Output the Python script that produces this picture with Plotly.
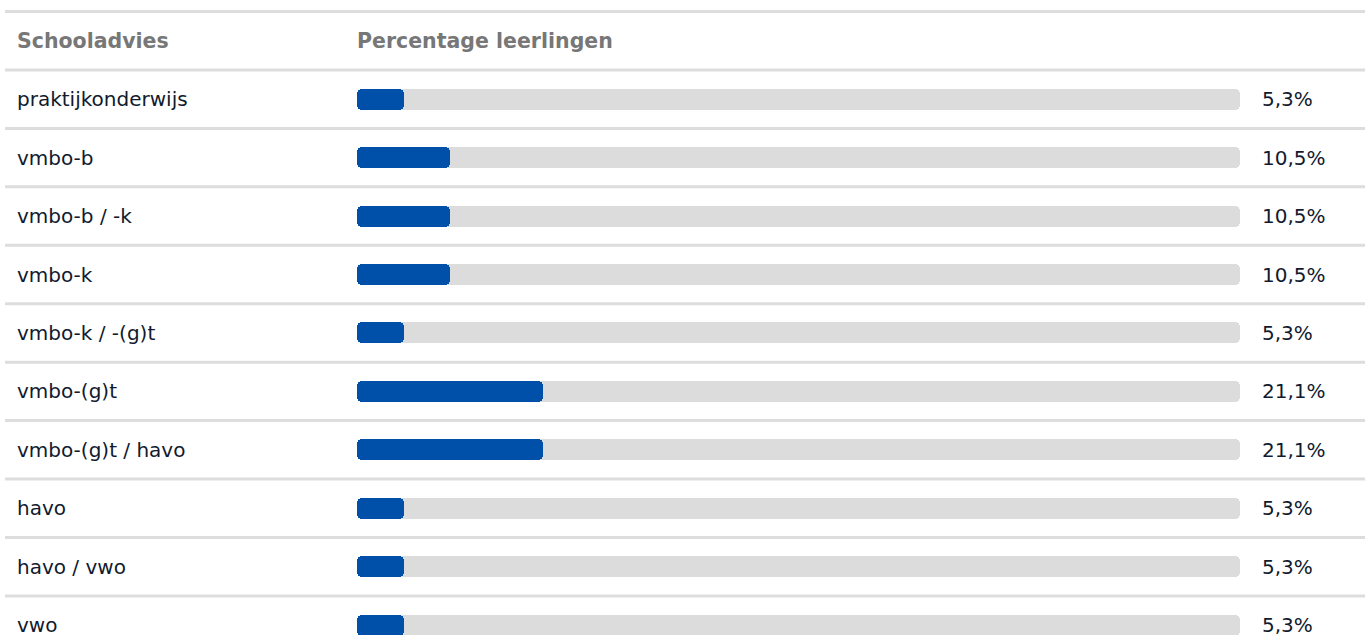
import plotly.graph_objects as go

categories = ["praktijkonderwijs", "vmbo-b", "vmbo-b / -k", "vmbo-k", "vmbo-k / -(g)t",
              "vmbo-(g)t", "vmbo-(g)t / havo", "havo", "havo / vwo", "vwo"]
values = [5.3, 10.5, 10.5, 10.5, 5.3, 21.1, 21.1, 5.3, 5.3, 5.3]
header_left = "Schooladvies"
header_bar = "Percentage leerlingen"
track_max = 100

W, H = 1365, 635
ROW = 58.44
C0 = 99.2  # pixel center of first row

def pix_to_idx(p):
    return (p - C0) / ROW

labels = [f"{v:.1f}".replace(".", ",") + "%" for v in values]

BAR_W = 0.36
RADIUS = 5

fig = go.Figure()
fig.add_trace(go.Bar(y=categories, x=[track_max] * len(categories), base=[0] * len(categories),
                     orientation="h",
                     marker=dict(color="#DCDCDC", cornerradius=RADIUS, line=dict(width=0)),
                     width=BAR_W, hoverinfo="skip", showlegend=False))
fig.add_trace(go.Bar(y=categories, x=values, base=[0] * len(categories), orientation="h",
                     marker=dict(color="#0050AA", cornerradius=RADIUS, line=dict(width=0)),
                     width=BAR_W, hoverinfo="skip", showlegend=False))

font_family = "DejaVu Sans, Verdana, sans-serif"
ann = []
ann.append(dict(text=f"<b>{header_left}</b>", x=15 / W, xref="paper", y=-1, yref="y",
                xanchor="left", yanchor="middle", showarrow=False,
                font=dict(size=20.5, color="#777777", family=font_family)))
ann.append(dict(text=f"<b>{header_bar}</b>", x=355 / W, xref="paper", y=-1, yref="y",
                xanchor="left", yanchor="middle", showarrow=False,
                font=dict(size=20.5, color="#777777", family=font_family)))
for i, (c, l) in enumerate(zip(categories, labels)):
    ann.append(dict(text=c, x=15 / W, xref="paper", y=i, yref="y",
                    xanchor="left", yanchor="middle", showarrow=False,
                    font=dict(size=20, color="#111A2E", family=font_family)))
    ann.append(dict(text=l, x=1260 / W, xref="paper", y=i, yref="y",
                    xanchor="left", yanchor="middle", showarrow=False,
                    font=dict(size=20, color="#111A2E", family=font_family)))

shapes = []
for k in range(-2, len(categories)):
    shapes.append(dict(type="line", xref="paper", yref="y", x0=5 / W, x1=1,
                       y0=k + 0.5, y1=k + 0.5, line=dict(color="#DDDDDD", width=3),
                       layer="below"))

fig.update_layout(
    width=W, height=H, margin=dict(l=0, r=0, t=0, b=0),
    paper_bgcolor="white", plot_bgcolor="white",
    barmode="overlay", bargap=0,
    xaxis=dict(domain=[357 / W, 1240 / W], range=[0, track_max], visible=False, fixedrange=True),
    yaxis=dict(range=[pix_to_idx(H), pix_to_idx(0)], visible=False, fixedrange=True,
               categoryorder="array", categoryarray=categories),
    annotations=ann, shapes=shapes,
    font=dict(family=font_family),
)

fig.write_html("out.html", config={"displayModeBar": False},
               post_script="document.body.style.margin='0';document.body.style.overflow='hidden';")
